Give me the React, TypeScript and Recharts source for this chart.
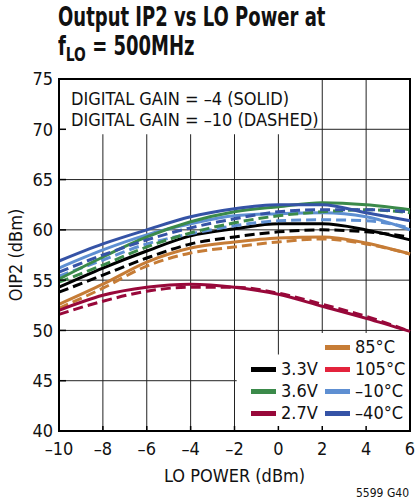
import { LineChart, Line, XAxis, YAxis, CartesianGrid, ReferenceArea } from 'recharts'

const FONT = '"Liberation Sans Narrow", "DejaVu Sans Condensed", Arial, sans-serif'

// LO power sweep, dBm
const LO_POWER = [-10, -8, -6, -4, -2, 0, 2, 4, 6]
const X_TICKS = [-10, -8, -6, -4, -2, 0, 2, 4, 6]
const Y_TICKS = [40, 45, 50, 55, 60, 65, 70, 75]

// OIP2 (dBm), solid = digital gain -4, dashed = digital gain -10
const V33_SOLID = [54.3, 56.2, 57.9, 59.4, 60.1, 60.6, 60.6, 60.0, 59.0]
const V33_DASHED = [53.8, 55.5, 57.2, 58.6, 59.3, 59.8, 60.0, 59.8, 59.3]
const V36_SOLID = [55.1, 57.3, 59.3, 60.8, 61.8, 62.3, 62.7, 62.5, 62.0]
const V36_DASHED = [54.8, 56.5, 58.3, 59.7, 60.7, 61.4, 61.8, 62.0, 61.7]
const V27_SOLID = [52.0, 53.5, 54.3, 54.6, 54.3, 53.6, 52.4, 51.2, 49.9]
const V27_DASHED = [51.6, 52.9, 53.9, 54.3, 54.3, 53.7, 52.6, 51.4, 49.9]
const T85_SOLID = [52.6, 54.6, 56.8, 58.2, 58.8, 59.2, 59.3, 58.7, 57.6]
const T85_DASHED = [52.2, 54.2, 56.4, 57.7, 58.3, 58.8, 59.1, 58.6, 57.6]
const TM10_SOLID = [56.2, 58.0, 59.5, 60.6, 61.4, 61.6, 61.7, 61.3, 60.0]
const TM10_DASHED = [55.4, 57.0, 58.6, 59.6, 60.4, 60.9, 61.0, 60.9, 60.2]
const TM40_SOLID = [56.9, 58.6, 60.0, 61.3, 62.1, 62.5, 62.5, 61.7, 60.9]
const TM40_DASHED = [55.8, 57.5, 59.0, 60.2, 61.1, 61.8, 62.0, 62.0, 61.8]

const COLORS = {
  v33: '#000000',
  v36: '#3b8a4a',
  v27: '#98083a',
  t85: '#c67c36',
  t105: '#e3233c',
  tm10: '#5e8fd2',
  tm40: '#3553a6',
}

const SERIES = [
  { key: 't85d', values: T85_DASHED, color: COLORS.t85, dashed: true },
  { key: 't85s', values: T85_SOLID, color: COLORS.t85, dashed: false },
  { key: 'v27d', values: V27_DASHED, color: COLORS.v27, dashed: true },
  { key: 'v27s', values: V27_SOLID, color: COLORS.v27, dashed: false },
  { key: 'v33d', values: V33_DASHED, color: COLORS.v33, dashed: true },
  { key: 'v33s', values: V33_SOLID, color: COLORS.v33, dashed: false },
  { key: 'tm10d', values: TM10_DASHED, color: COLORS.tm10, dashed: true },
  { key: 'tm10s', values: TM10_SOLID, color: COLORS.tm10, dashed: false },
  { key: 'v36d', values: V36_DASHED, color: COLORS.v36, dashed: true },
  { key: 'v36s', values: V36_SOLID, color: COLORS.v36, dashed: false },
  { key: 'tm40d', values: TM40_DASHED, color: COLORS.tm40, dashed: true },
  { key: 'tm40s', values: TM40_SOLID, color: COLORS.tm40, dashed: false },
]

const LEGEND_SUPPLY = [
  { label: '3.3V', color: COLORS.v33 },
  { label: '3.6V', color: COLORS.v36 },
  { label: '2.7V', color: COLORS.v27 },
]
const LEGEND_TEMP = [
  { label: '85°C', color: COLORS.t85 },
  { label: '105°C', color: COLORS.t105 },
  { label: '–10°C', color: COLORS.tm10 },
  { label: '–40°C', color: COLORS.tm40 },
]

const fmt = (v: number) => (v < 0 ? `–${Math.abs(v)}` : `${v}`)

const LegendRow = ({ label, color }: { label: string; color: string }) => (
  <div style={{ display: 'flex', alignItems: 'center', height: 22 }}>
    <div style={{ width: 25, height: 5, background: color, marginRight: 5 }} />
    <span>{label}</span>
  </div>
)

const App = () => {
  const data = LO_POWER.map((x, i) => {
    const row: Record<string, number> = { x }
    SERIES.forEach(s => {
      row[s.key] = s.values[i]
    })
    return row
  })

  const tickStyle = { fill: '#111', fontSize: 18, fontFamily: FONT }

  return (
    <div
      style={{
        position: 'absolute',
        left: 0,
        top: 0,
        width: 417,
        height: 499,
        background: '#fff',
        fontFamily: FONT,
        color: '#111',
      }}
    >
      <div
        style={{
          position: 'absolute',
          left: 58,
          top: 3,
          fontSize: 26,
          fontWeight: 'bold',
          lineHeight: '29px',
          whiteSpace: 'nowrap',
          transform: 'scaleX(0.77)',
          transformOrigin: 'left top',
        }}
      >
        <div>Output IP2 vs LO Power at</div>
        <div>
          f<sub style={{ fontSize: 20, verticalAlign: -6 }}>LO</sub> = 500MHz
        </div>
      </div>

      <LineChart
        width={417}
        height={499}
        data={data}
        margin={{ top: 79, right: 7, bottom: 28, left: 0 }}
      >
        <CartesianGrid stroke="#222" strokeWidth={1} />
        <ReferenceArea x1={-10} x2={1.2} y1={69.5} y2={75} fill="#fff" fillOpacity={1} stroke="none" />
        <ReferenceArea x1={-1.9} x2={6} y1={40} y2={47.6} fill="#fff" fillOpacity={1} stroke="none" />
        <ReferenceArea x1={1.8} x2={6} y1={40} y2={49.75} fill="#fff" fillOpacity={1} stroke="none" />
        <XAxis
          dataKey="x"
          type="number"
          domain={[-10, 6]}
          ticks={X_TICKS}
          tickFormatter={fmt}
          tick={tickStyle}
          tickSize={-5}
          tickMargin={16}
          tickLine={{ stroke: '#000', strokeWidth: 1.5 }}
          axisLine={{ stroke: '#000', strokeWidth: 2 }}
          height={40}
          interval={0}
          label={{
            value: 'LO POWER (dBm)',
            position: 'bottom',
            offset: -2,
            style: { fill: '#111', fontSize: 18, fontFamily: FONT },
          }}
        />
        <YAxis
          type="number"
          domain={[40, 75]}
          ticks={Y_TICKS}
          tick={tickStyle}
          tickSize={-7}
          tickMargin={13}
          tickLine={{ stroke: '#000', strokeWidth: 1.5 }}
          axisLine={{ stroke: '#000', strokeWidth: 2 }}
          width={59}
          interval={0}
        />
        {SERIES.map(s => (
          <Line
            key={s.key}
            type="monotone"
            dataKey={s.key}
            stroke={s.color}
            strokeWidth={3}
            strokeDasharray={s.dashed ? '10 5' : undefined}
            dot={false}
            isAnimationActive={false}
          />
        ))}
        <ReferenceArea x1={-10} x2={6} y1={40} y2={75} fill="none" stroke="#000" strokeWidth={2} />
      </LineChart>

      <div
        style={{
          position: 'absolute',
          left: 71,
          top: 88,
          fontSize: 18,
          lineHeight: '21px',
          whiteSpace: 'nowrap',
        }}
      >
        <div>DIGITAL GAIN = –4 (SOLID)</div>
        <div>DIGITAL GAIN = –10 (DASHED)</div>
      </div>

      <div style={{ position: 'absolute', left: 251, top: 358, fontSize: 18, lineHeight: '18px' }}>
        {LEGEND_SUPPLY.map(l => (
          <LegendRow key={l.label} {...l} />
        ))}
      </div>
      <div style={{ position: 'absolute', left: 325, top: 336, fontSize: 18, lineHeight: '18px' }}>
        {LEGEND_TEMP.map(l => (
          <LegendRow key={l.label} {...l} />
        ))}
      </div>

      <div
        style={{
          position: 'absolute',
          left: 15,
          top: 255,
          transform: 'translate(-50%, -50%) rotate(-90deg)',
          fontSize: 18,
          whiteSpace: 'nowrap',
        }}
      >
        OIP2 (dBm)
      </div>

      <div style={{ position: 'absolute', right: 8, top: 486, fontSize: 12 }}>5599 G40</div>
    </div>
  )
}

export default App
